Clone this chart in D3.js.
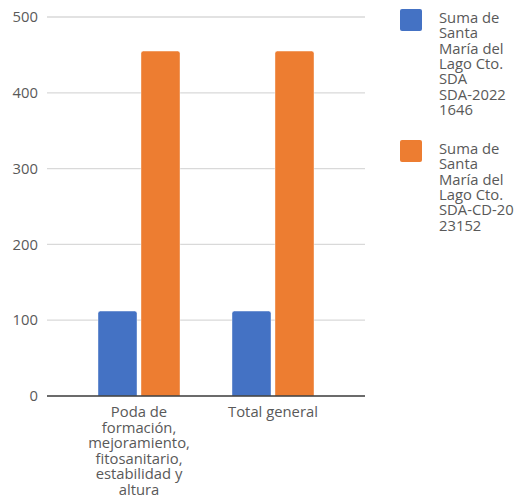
<!DOCTYPE html>
<html><head><meta charset="utf-8">
<script src="https://cdn.jsdelivr.net/npm/d3@7"></script>
<style>body{margin:0;background:#fff}svg{display:block}text{font-family:"Open Sans",sans-serif;fill:#595959}</style>
</head><body>
<svg id="c" width="519" height="498"></svg>
<script>
const categories = [
  ["Poda de","formación,","mejoramiento,","fitosanitario,","estabilidad y","altura"],
  ["Total general"]
];
const categoryKeys = ["Poda de formación, mejoramiento, fitosanitario, estabilidad y altura","Total general"];
const seriesNames = [
  ["Suma de","Santa","María del","Lago Cto.","SDA","SDA-2022","1646"],
  ["Suma de","Santa","María del","Lago Cto.","SDA-CD-20","23152"]
];
const seriesKeys = ["s1","s2"];
const seriesA = [112, 112];
const seriesB = [455, 455];
const yTicks = [0,100,200,300,400,500];
const colors = ["#4472C4","#ED7D31"];

const FS = "14.8px";
const svg = d3.select("#c");
const y = d3.scaleLinear().domain([0,500]).range([396,17]);
const x0 = d3.scaleBand().domain(categoryKeys).range([72,340]).padding(0);
const groupW = 82;
const x1 = d3.scaleBand().domain(seriesKeys).range([0,groupW]).paddingInner(0.093).paddingOuter(0);

// gridlines
svg.append("g").selectAll("line").data(yTicks.filter(d=>d>0)).join("line")
  .attr("x1",47).attr("x2",365).attr("y1",d=>y(d)).attr("y2",d=>y(d))
  .attr("stroke","#d9d9d9").attr("stroke-width",1.3);

// y axis labels
const yAxis = d3.axisLeft(y).tickValues(yTicks).tickSize(0).tickPadding(0);
const ya = svg.append("g").attr("transform","translate(38,0)").call(yAxis);
ya.select(".domain").remove();
ya.selectAll("text").style("font-size",FS).attr("fill","#595959").attr("font-family","Open Sans");

// bars
const data = categoryKeys.map((k,i)=>({k, vals:[seriesA[i],seriesB[i]]}));
const g = svg.append("g");
data.forEach(d=>{
  const gx = x0(d.k) + (x0.bandwidth()-groupW)/2;
  d.vals.forEach((v,j)=>{
    const bx = gx + x1(seriesKeys[j]);
    const bw = x1.bandwidth();
    const top = y(v), bot = y(0);
    const r = 2.5;
    g.append("path")
      .attr("d",`M${bx},${bot}V${top+r}Q${bx},${top} ${bx+r},${top}H${bx+bw-r}Q${bx+bw},${top} ${bx+bw},${top+r}V${bot}Z`)
      .attr("fill",colors[j]).attr("stroke","#fff").attr("stroke-opacity",0.5).attr("stroke-width",0.8);
  });
});

// x axis line
svg.append("line").attr("x1",47).attr("x2",365).attr("y1",y(0)).attr("y2",y(0))
  .attr("stroke","#3a3a3a").attr("stroke-width",1.5);

// x labels
categories.forEach((lines,i)=>{
  const cx = x0(categoryKeys[i]) + x0.bandwidth()/2;
  const t = svg.append("text").attr("text-anchor","middle").style("font-size",FS);
  lines.forEach((l,k)=>t.append("tspan").attr("x",cx).attr("y",417+k*15.5).text(l));
});

// legend
const legY = [9,140];
seriesNames.forEach((lines,i)=>{
  svg.append("rect").attr("x",400).attr("y",legY[i]).attr("width",22).attr("height",22)
    .attr("rx",2).attr("fill",colors[i]);
  const t = svg.append("text").style("font-size",FS);
  lines.forEach((l,k)=>t.append("tspan").attr("x",439).attr("y",legY[i]+14+k*15.3).text(l));
});
</script>
</body></html>
